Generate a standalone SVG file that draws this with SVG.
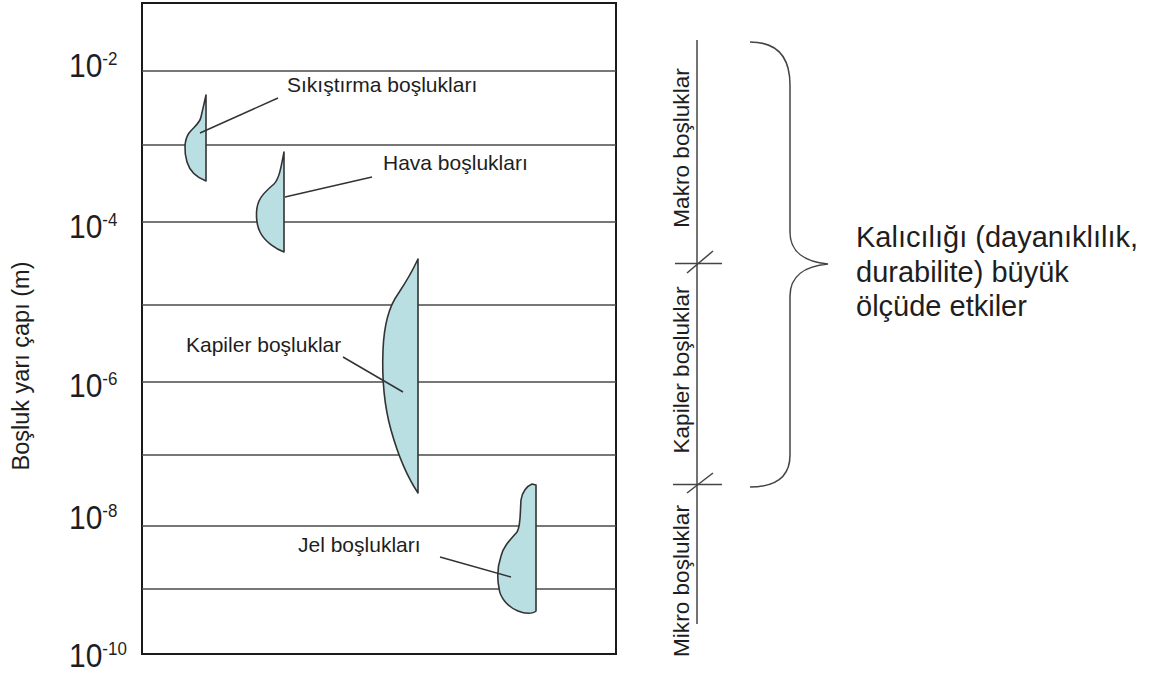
<svg xmlns="http://www.w3.org/2000/svg" width="1149" height="675" viewBox="0 0 1149 675">
<style>
text{font-family:"Liberation Sans",Arial,sans-serif;fill:#1e1e1e}
.grid{stroke:#4a4a4a;stroke-width:1.6;fill:none}
.frame{stroke:#1a1a1a;stroke-width:2;fill:none}
.pore{fill:#b9dfe3;stroke:#333;stroke-width:1.6;stroke-linejoin:round}
.lead{stroke:#333;stroke-width:1.5;fill:none}
.lbl{font-size:21px}
.tick{font-size:30px}
.sup{font-size:17px}
.scale{stroke:#444;stroke-width:1.5;fill:none}
.rot{font-size:22.6px}
</style>
<rect width="1149" height="675" fill="#fff"/>
<g id="chart">
<rect class="frame" x="142" y="3" width="474" height="651"/>
<g class="grid">
<line x1="142" y1="71" x2="616" y2="71"/>
<line x1="142" y1="145" x2="616" y2="145"/>
<line x1="142" y1="222" x2="616" y2="222"/>
<line x1="142" y1="305" x2="616" y2="305"/>
<line x1="142" y1="382" x2="616" y2="382"/>
<line x1="142" y1="455" x2="616" y2="455"/>
<line x1="142" y1="526" x2="616" y2="526"/>
<line x1="142" y1="589" x2="616" y2="589"/>
</g>
</g>
<g id="axis-labels">
<text class="tick" transform="translate(69,77) scale(1,1.12)">10<tspan class="sup" dy="-11">-2</tspan></text>
<text class="tick" transform="translate(69,238) scale(1,1.12)">10<tspan class="sup" dy="-11">-4</tspan></text>
<text class="tick" transform="translate(69,397) scale(1,1.12)">10<tspan class="sup" dy="-11">-6</tspan></text>
<text class="tick" transform="translate(69,529) scale(1,1.12)">10<tspan class="sup" dy="-11">-8</tspan></text>
<text class="tick" transform="translate(69,667) scale(1,1.12)">10<tspan class="sup" dy="-11">-10</tspan></text>
<text font-size="23.5" text-anchor="middle" transform="translate(29,366) rotate(-90)">Boşluk yarı çapı (m)</text>
</g>
<g id="sikistirma">
<path class="pore" d="M206,95 L206,181 C198,178 190,172 187,162 C184,152 184,140 189,133 C194,127 200,123 201,117 C203,108 205,100 206,95 Z"/>
<text class="lbl" x="287" y="92">Sıkıştırma boşlukları</text>
</g>
<g id="hava">
<path class="pore" d="M284,152 L284,252 C276,249 265,242 260,232 C256,224 255,210 259,201 C262,194 268,189 274,184 C279,179 281,168 284,152 Z"/>
<text class="lbl" x="383" y="170">Hava boşlukları</text>
</g>
<g id="kapiler">
<path class="pore" d="M418,259 L418,493 C408,478 398,455 391,430 C384,405 382,375 383,350 C384,325 390,305 398,294 C406,282 412,272 418,259 Z"/>
<text class="lbl" x="186" y="352">Kapiler boşluklar</text>
</g>
<g id="jel">
<path class="pore" d="M532,484 L536,485 L536,611 C533,614 525,614 518,611 C508,607 500,598 499,588 C497,578 498,565 501,556 C503,547 510,540 517,532 C521,526 520,512 521,500 C522,492 527,486 532,484 Z"/>
<text class="lbl" x="298" y="552">Jel boşlukları</text>
</g>
<g id="connectors">
<line class="lead" x1="200" y1="133" x2="278" y2="98"/>
<line class="lead" x1="285" y1="197" x2="372" y2="177"/>
<line class="lead" x1="343" y1="357" x2="403" y2="392"/>
<line class="lead" x1="440" y1="557" x2="511" y2="577"/>
</g>
<g id="scale">
<line class="scale" x1="697" y1="40" x2="697" y2="624"/>
<line class="scale" x1="675" y1="263.5" x2="722" y2="263.5"/>
<line class="scale" x1="687" y1="273" x2="713" y2="251"/>
<line class="scale" x1="673" y1="484.5" x2="722" y2="484.5"/>
<line class="scale" x1="687" y1="493" x2="713" y2="473"/>
<text class="rot" text-anchor="middle" transform="translate(689,148) rotate(-90)">Makro boşluklar</text>
<text class="rot" text-anchor="middle" transform="translate(689,370) rotate(-90)">Kapiler boşluklar</text>
<text class="rot" text-anchor="middle" transform="translate(689,581) rotate(-90)">Mikro boşluklar</text>
</g>
<g id="brace">
<path class="scale" d="M750,42 C775,42 790,55 790,85 L790,232 C790,252 805,262 828,264 C805,266 790,276 790,296 L790,455 C790,477 775,487 750,487"/>
<text font-size="29"><tspan x="856" y="247">Kalıcılığı (dayanıklılık,</tspan><tspan x="856" y="282">durabilite) büyük</tspan><tspan x="856" y="316">ölçüde etkiler</tspan></text>
</g>
</svg>
